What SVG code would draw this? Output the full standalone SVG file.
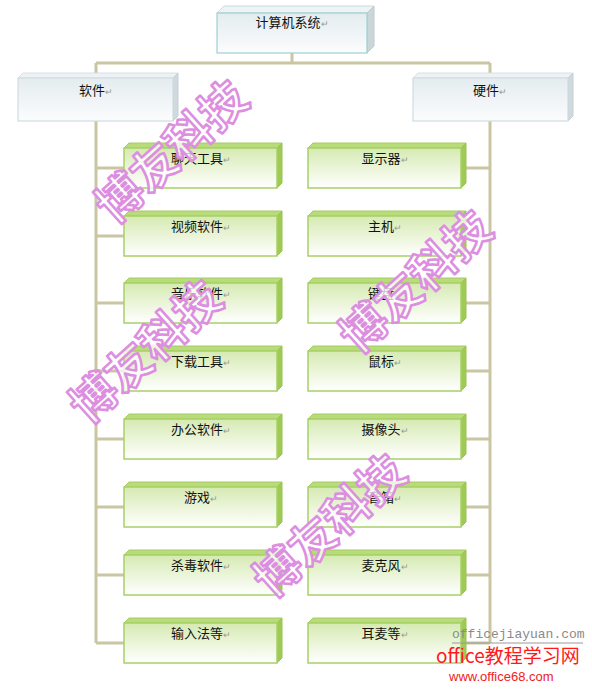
<svg xmlns="http://www.w3.org/2000/svg" xmlns:xlink="http://www.w3.org/1999/xlink" width="592" height="690" viewBox="0 0 592 690">
<style>
.lbl{font-family:"Noto Sans CJK SC","Liberation Sans",sans-serif;font-size:13px;fill:#111;text-anchor:middle}
.rt{fill:#999;font-size:9px}
.con{stroke:#cac6a2;stroke-width:3;fill:none}
.wm{font-family:"Noto Sans CJK SC",sans-serif;font-size:46px;font-weight:bold;fill:#fff;fill-opacity:0.75;stroke:#dc8ee0;stroke-width:2.5;stroke-linejoin:round;text-anchor:middle}
</style>
<defs>
<linearGradient id="gg" x1="0" y1="0" x2="0" y2="1">
<stop offset="0" stop-color="#d6eab2"/><stop offset="1" stop-color="#ffffff"/>
</linearGradient>
<linearGradient id="bg" x1="0" y1="0" x2="0" y2="1">
<stop offset="0" stop-color="#e4ecef"/><stop offset="1" stop-color="#fbfcfd"/>
</linearGradient>
<g id="gbox">
<polygon points="0,0 5,-5 158,-5 153,0" fill="#b9dc7a" stroke="#a6cc62" stroke-width="1"/>
<polygon points="153,0 158,-5 158,35 153,40" fill="#9fca56" stroke="#98c452" stroke-width="1"/>
<rect x="0" y="0" width="153" height="40" fill="url(#gg)" stroke="#a9d068" stroke-width="1.5"/>
</g>
<g id="sbox">
<polygon points="0,0 5,-5 160,-5 155,0" fill="#eef2f4" stroke="#d6e0e4" stroke-width="1"/>
<polygon points="155,0 160,-5 160,38 155,43" fill="#cfd9de" stroke="#c4d0d6" stroke-width="1"/>
<rect x="0" y="0" width="155" height="43" fill="url(#bg)" stroke="#d0dde2" stroke-width="1.2"/>
</g>
</defs>
<rect width="592" height="690" fill="#fff"/>
<g id="connectors">
<path class="con" d="M292,53V63M96,63H490M96,63V643M490,63V643"/>
<path class="con" d="M96,168H124M96,236H124M96,303H124M96,371H124M96,439H124M96,507H124M96,575H124M96,643H124"/>
<path class="con" d="M463,168H490M463,236H490M463,303H490M463,371H490M463,439H490M463,507H490M463,575H490M463,643H490"/>
</g>
<g id="n-root">
<polygon points="217,13 224,6 374,6 367,13" fill="#eef3f4" stroke="#c8dadd"/>
<polygon points="367,13 374,6 374,46 367,53" fill="#c9d6da" stroke="#bccbd0"/>
<rect x="217" y="13" width="150" height="40" fill="url(#bg)" stroke="#9fcfd2" stroke-width="1.2"/>
<text class="lbl" x="292" y="27">计算机系统<tspan class="rt">↵</tspan></text>
</g>
<g id="n-software"><use xlink:href="#sbox" x="18" y="78"/><text class="lbl" x="96" y="95">软件<tspan class="rt">↵</tspan></text></g>
<g id="n-hardware"><use xlink:href="#sbox" x="413" y="78"/><text class="lbl" x="490" y="95">硬件<tspan class="rt">↵</tspan></text></g>
<g id="s1"><use xlink:href="#gbox" x="124" y="148"/><text class="lbl" x="201" y="163">聊天工具<tspan class="rt">↵</tspan></text></g>
<g id="s2"><use xlink:href="#gbox" x="124" y="216"/><text class="lbl" x="201" y="231">视频软件<tspan class="rt">↵</tspan></text></g>
<g id="s3"><use xlink:href="#gbox" x="124" y="283"/><text class="lbl" x="201" y="298">音乐软件<tspan class="rt">↵</tspan></text></g>
<g id="s4"><use xlink:href="#gbox" x="124" y="351"/><text class="lbl" x="201" y="366">下载工具<tspan class="rt">↵</tspan></text></g>
<g id="s5"><use xlink:href="#gbox" x="124" y="419"/><text class="lbl" x="201" y="434">办公软件<tspan class="rt">↵</tspan></text></g>
<g id="s6"><use xlink:href="#gbox" x="124" y="487"/><text class="lbl" x="201" y="502">游戏<tspan class="rt">↵</tspan></text></g>
<g id="s7"><use xlink:href="#gbox" x="124" y="555"/><text class="lbl" x="201" y="570">杀毒软件<tspan class="rt">↵</tspan></text></g>
<g id="s8"><use xlink:href="#gbox" x="124" y="623"/><text class="lbl" x="201" y="638">输入法等<tspan class="rt">↵</tspan></text></g>
<g id="h1"><use xlink:href="#gbox" x="308" y="148"/><text class="lbl" x="385" y="163">显示器<tspan class="rt">↵</tspan></text></g>
<g id="h2"><use xlink:href="#gbox" x="308" y="216"/><text class="lbl" x="385" y="231">主机<tspan class="rt">↵</tspan></text></g>
<g id="h3"><use xlink:href="#gbox" x="308" y="283"/><text class="lbl" x="385" y="298">键盘<tspan class="rt">↵</tspan></text></g>
<g id="h4"><use xlink:href="#gbox" x="308" y="351"/><text class="lbl" x="385" y="366">鼠标<tspan class="rt">↵</tspan></text></g>
<g id="h5"><use xlink:href="#gbox" x="308" y="419"/><text class="lbl" x="385" y="434">摄像头<tspan class="rt">↵</tspan></text></g>
<g id="h6"><use xlink:href="#gbox" x="308" y="487"/><text class="lbl" x="385" y="502">音箱<tspan class="rt">↵</tspan></text></g>
<g id="h7"><use xlink:href="#gbox" x="308" y="555"/><text class="lbl" x="385" y="570">麦克风<tspan class="rt">↵</tspan></text></g>
<g id="h8"><use xlink:href="#gbox" x="308" y="623"/><text class="lbl" x="385" y="638">耳麦等<tspan class="rt">↵</tspan></text></g>
<g id="watermarks">
<text class="wm" transform="translate(172,152) rotate(-42)" y="16">博友科技</text>
<text class="wm" transform="translate(416,282) rotate(-42)" y="16">博友科技</text>
<text class="wm" transform="translate(146,352) rotate(-42)" y="16">博友科技</text>
<text class="wm" transform="translate(330,526) rotate(-42)" y="16">博友科技</text>
<text x="452" y="638" font-family="Liberation Mono,monospace" font-size="13" fill="#8a8a8a">officejiayuan.com</text>
<line x1="452" y1="643" x2="583" y2="643" stroke="#9a9a9a" stroke-width="1"/>
<text x="436" y="663" font-family="Noto Sans CJK SC,sans-serif" font-size="19" fill="#ff1a1a">office教程学习网</text>
<text x="449" y="681" font-family="Liberation Sans,sans-serif" font-size="13" fill="#ee1c1c">www.office68.com</text>
</g>
</svg>
